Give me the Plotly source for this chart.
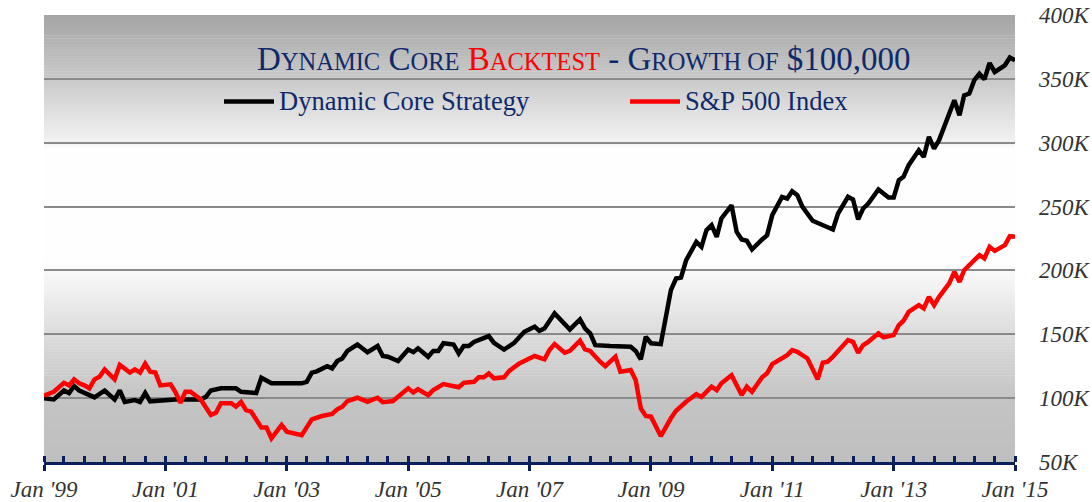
import plotly.graph_objects as go

# ---------------- data (values in $ thousands) ----------------
dc_dates = ["1999-01","1999-03","1999-05","1999-06","1999-07","1999-08","1999-11",
            "2000-01","2000-03","2000-04","2000-05","2000-07","2000-08","2000-09","2000-10",
            "2001-03","2001-08","2001-09","2001-10","2001-12",
            "2002-03","2002-04","2002-07","2002-08","2002-10",
            "2003-04","2003-05","2003-06","2003-07","2003-09","2003-10","2003-11","2003-12",
            "2004-01","2004-03","2004-05","2004-07","2004-08","2004-09","2004-11",
            "2005-01","2005-02","2005-03","2005-05","2005-06","2005-07","2005-08","2005-10","2005-11","2005-12",
            "2006-01","2006-02","2006-05","2006-06","2006-08","2006-10","2006-12",
            "2007-02","2007-03","2007-04","2007-06","2007-07","2007-09","2007-11","2007-12",
            "2008-01","2008-02","2008-05","2008-07","2008-09","2008-10","2008-11","2008-12",
            "2009-01","2009-03","2009-04","2009-05","2009-06","2009-07","2009-08","2009-10","2009-11","2009-12",
            "2010-01","2010-02","2010-03","2010-05","2010-06","2010-07","2010-08","2010-09","2010-11","2010-12",
            "2011-01","2011-03","2011-04","2011-05","2011-06","2011-07","2011-09",
            "2012-01","2012-02","2012-04","2012-05","2012-06","2012-07","2012-08","2012-10","2012-12",
            "2013-01","2013-02","2013-03","2013-04","2013-06","2013-07","2013-08","2013-09","2013-10","2013-12",
            "2014-01","2014-02","2014-03","2014-04","2014-05","2014-06","2014-07","2014-08","2014-09","2014-11","2014-12",
            "2015-01"]
dc_values = [100, 99, 106, 104, 109.5, 106, 100.6,
             106, 99, 106, 97, 98.5, 97, 104, 97.5,
             99, 99, 101, 106, 107.7,
             107.7, 105, 104, 116, 111.6,
             111.6, 112.8, 120, 121, 125, 123.3, 129, 131,
             137, 142, 136, 140.8, 133, 132.4, 129,
             138, 136, 139, 132.4, 137, 137, 143, 142, 135, 140.8,
             140.8, 144, 148.6, 143.3, 138, 143.3, 152,
             156, 152.7, 154.6, 166.4, 162, 153.8, 161.7, 154.6,
             150.7, 141.5, 140.8, 140.8, 140.2, 137, 130.4, 148,
             143, 142.3, 163.7, 184.6, 193.7, 194.5, 208, 222.4, 218.5, 231.5,
             235.4, 226.3, 240.7, 251, 230.2, 224.2, 223.2, 216.4, 224.2, 227.6,
             243.3, 257.6, 256.3, 262, 259, 250, 238.9,
             232, 244.6, 257.6, 255.5, 240, 248.5, 252.4, 263.4, 257.1,
             257.1, 270.7, 273.3, 282.4, 294.1, 288.9, 304.6, 295.4, 302, 324,
             333.3, 321.5, 337, 338.5, 349, 354, 349.6, 362.4, 355.4, 360.6, 366.7,
             364.6]

sp_dates = ["1999-01","1999-03","1999-05","1999-06","1999-07","1999-08","1999-09","1999-10","1999-11","1999-12",
            "2000-01","2000-03","2000-04","2000-06","2000-07","2000-08","2000-09","2000-10","2000-11","2000-12",
            "2001-02","2001-03","2001-04","2001-05","2001-06","2001-07","2001-08","2001-10","2001-11","2001-12",
            "2002-02","2002-03","2002-04","2002-05","2002-06","2002-08","2002-09","2002-10","2002-12",
            "2003-01","2003-04","2003-06","2003-08","2003-10","2003-11","2003-12",
            "2004-01","2004-03","2004-05","2004-07","2004-08","2004-10","2004-11",
            "2005-01","2005-02","2005-03","2005-05","2005-06","2005-08","2005-09","2005-11","2005-12",
            "2006-02","2006-03","2006-04","2006-05","2006-06","2006-08","2006-09","2006-11","2006-12",
            "2007-02","2007-04","2007-05","2007-06","2007-08","2007-09","2007-11","2007-12",
            "2008-01","2008-03","2008-04","2008-06","2008-07","2008-09","2008-10","2008-11","2008-12",
            "2009-01","2009-03","2009-05","2009-06","2009-08","2009-10","2009-11",
            "2010-01","2010-02","2010-03","2010-05","2010-07","2010-08","2010-09","2010-11","2010-12",
            "2011-01","2011-04","2011-05","2011-06","2011-08","2011-09","2011-10","2011-11","2011-12",
            "2012-01","2012-03","2012-04","2012-05","2012-06","2012-07","2012-08","2012-10","2012-11",
            "2013-01","2013-02","2013-03","2013-04","2013-06","2013-07","2013-08","2013-09","2013-10","2013-12",
            "2014-01","2014-02","2014-03","2014-04","2014-06","2014-07","2014-08","2014-09","2014-11","2014-12",
            "2015-01"]
sp_values = [102, 105, 112, 110, 114.7, 111.6, 110, 107.7, 114.7, 116.7,
             122.5, 114.7, 126, 120, 122.5, 120, 127, 120.7, 120, 110,
             110.8, 105, 96.4, 105, 105, 102.4, 99, 86.8, 88.6, 96,
             96, 93.3, 97, 90.7, 89.4, 77, 77, 68.5, 79,
             73.7, 71, 83.4, 86, 87.6, 91.2, 93.3,
             97.7, 100.3, 97.2, 100.3, 96.8, 97.7, 101,
             107.7, 104.5, 107, 102.4, 106.3, 111, 110, 108.5, 112,
             112.8, 116.3, 116.3, 119.4, 115.5, 116.3, 121.4, 127.2, 129.3,
             133, 130.4, 137.6, 142.3, 135.5, 137, 145, 138.2,
             137, 128.5, 125, 132.4, 120.7, 122, 114.2, 92, 86,
             85.5, 70.3, 84.2, 90.1, 97.2, 103.2, 101,
             109, 106.3, 111.6, 118, 102.4, 109, 105, 116.3, 119.4,
             126.7, 133.7, 137.6, 136.3, 131.1, 123.3, 114.7, 127.7, 128.5,
             132.4, 141.5, 145.5, 144.1, 135.5, 141.5, 144.1, 150.7, 147.6,
             149.4, 157.2, 160.6, 167.6, 172.8, 170.3, 179.3, 172.8, 179.3, 189.8,
             198.9, 191, 200.2, 204.1, 212, 209.4, 218.5, 215.3, 219.8, 226.8,
             226.3]

y_ticks = [50, 100, 150, 200, 250, 300, 350, 400]
y_tick_labels = ["50K", "100K", "150K", "200K", "250K", "300K", "350K", "400K"]
series_names = ["Dynamic Core Strategy", "S&P 500 Index"]

# ---------------- layout geometry (window pixels; page body margin removed) ----------------
W, H = 1092, 502
L, R, T, B = 44, 1015, 15, 462
NAVY = "#0f2a6b"
AXIS_NAVY = "#0b1f5c"
FONT = "Liberation Serif, Times New Roman, serif"


def px_x(px):
    return (px - L) / (R - L)


def px_y(py):
    return (B - py) / (B - T)


fig = go.Figure()
fig.add_trace(go.Scatter(x=dc_dates, y=dc_values, mode="lines", name=series_names[0],
                         line=dict(color="#000000", width=4.5), showlegend=False))
fig.add_trace(go.Scatter(x=sp_dates, y=sp_values, mode="lines", name=series_names[1],
                         line=dict(color="#ff0000", width=4.5), showlegend=False))

# background vertical gradient (bands)
stops = [(0.0, 191), (0.141, 196), (0.284, 219), (0.43, 250), (0.45, 254),
         (0.70, 254), (0.714, 243), (0.857, 201), (1.0, 164)]


def gray_at(f):
    for (f0, g0), (f1, g1) in zip(stops[:-1], stops[1:]):
        if f0 <= f <= f1:
            t = 0 if f1 == f0 else (f - f0) / (f1 - f0)
            return g0 + t * (g1 - g0)
    return stops[-1][1]


shapes = []
n = 150
for i in range(n):
    f0 = i / n
    f1 = (i + 1) / n
    g = int(round(gray_at((f0 + f1) / 2)))
    shapes.append(dict(type="rect", xref="paper", yref="paper", x0=0, x1=1, y0=f0, y1=min(1, f1 + 0.001),
                       fillcolor=f"rgb({g},{g},{g})", line=dict(width=0), layer="below"))

# legend marks
shapes.append(dict(type="line", xref="paper", yref="paper", x0=px_x(224), x1=px_x(274),
                   y0=px_y(101.5), y1=px_y(101.5), line=dict(color="#000000", width=4.5)))
shapes.append(dict(type="line", xref="paper", yref="paper", x0=px_x(630), x1=px_x(680),
                   y0=px_y(101.5), y1=px_y(101.5), line=dict(color="#ff0000", width=4.5)))

sm = 'style="font-size:24.5px"'
title_html = (
    f'<span style="color:{NAVY}">D<span {sm}>YNAMIC</span> C<span {sm}>ORE</span> </span>'
    f'<span style="color:#ff0000">B<span {sm}>ACKTEST</span></span>'
    f'<span style="color:{NAVY}"> - G<span {sm}>ROWTH OF</span> $100,000</span>'
)

annotations = [
    dict(text=title_html, xref="paper", yref="paper", x=px_x(584), y=px_y(58.5),
         xanchor="center", yanchor="middle", showarrow=False,
         font=dict(family=FONT, size=33, color=NAVY)),
    dict(text=series_names[0], xref="paper", yref="paper", x=px_x(277), y=px_y(101),
         xanchor="left", yanchor="middle", showarrow=False,
         font=dict(family=FONT, size=26.5, color=NAVY)),
    dict(text=series_names[1], xref="paper", yref="paper", x=px_x(683), y=px_y(101),
         xanchor="left", yanchor="middle", showarrow=False,
         font=dict(family=FONT, size=26.5, color=NAVY)),
]

xtickfont = dict(family=FONT, size=23, color="#333333", style="italic")
ytickfont = dict(family=FONT, size=23, color="#333333", style="italic")

fig.update_layout(
    width=W, height=H,
    margin=dict(l=L, r=W - R, t=T, b=H - B, pad=0, autoexpand=False),
    paper_bgcolor="white", plot_bgcolor="white",
    showlegend=False,
    shapes=shapes,
    annotations=annotations,
    xaxis=dict(type="date", range=["1999-01-01", "2015-01-01"], automargin=False,
               tick0="1999-01-01", dtick="M24", tickformat="%b '%y",
               showgrid=False, zeroline=False,
               showline=True, linecolor=AXIS_NAVY, linewidth=3,
               ticks="outside", ticklen=6, tickwidth=3, tickcolor=AXIS_NAVY,
               minor=dict(ticks="inside", dtick="M4", tick0="1999-01-01", ticklen=6,
                          tickwidth=2.5, tickcolor=AXIS_NAVY, showgrid=False),
               tickfont=xtickfont, ticklabelstandoff=-2),
    xaxis2=dict(type="date", range=["1999-01-01", "2015-01-01"], overlaying="x",
                matches="x", anchor="y", side="bottom", automargin=False,
                tick0="1999-01-01", dtick="M24", showticklabels=False,
                showgrid=False, zeroline=False, showline=False,
                ticks="inside", ticklen=6, tickwidth=3, tickcolor=AXIS_NAVY),
    yaxis=dict(range=[50, 400], side="right", tickvals=y_ticks, ticktext=y_tick_labels,
               automargin=False,
               showgrid=True, gridcolor="#8a8a8a", gridwidth=1.5,
               zeroline=False, showline=False, ticks="",
               tickfont=ytickfont, ticklabelstandoff=23),
)

# overlay axis carrier trace (invisible) so the inside major ticks render
fig.add_trace(go.Scatter(x=[dc_dates[0]], y=[dc_values[0]], xaxis="x2", mode="lines",
                         line=dict(width=0), hoverinfo="skip", showlegend=False))

# the page's default 8px body margin would shift the figure; remove it
fig.write_html("out.html", config={"displayModeBar": False},
               post_script="document.body.style.margin='0px';")
